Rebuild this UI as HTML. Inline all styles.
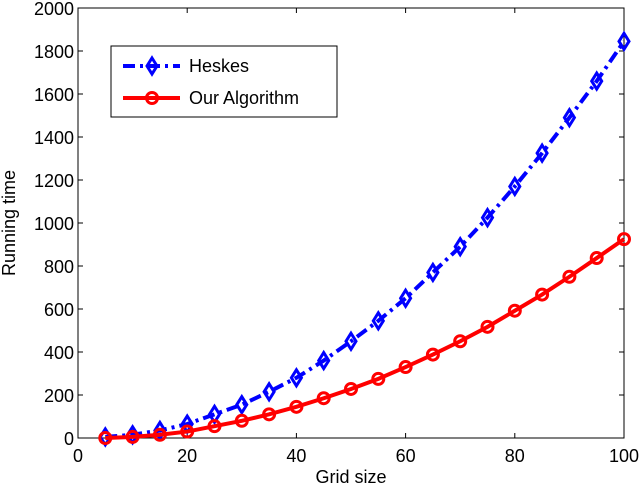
<!DOCTYPE html>
<html><head><meta charset="utf-8"><style>
body{margin:0;background:#fff;}
svg text{font-family:"Liberation Sans",sans-serif;font-size:18px;fill:#000;}
</style></head><body>
<svg id="c" width="640" height="485" xmlns="http://www.w3.org/2000/svg"></svg>
<script>
const xs=[5,10,15,20,25,30,35,40,45,50,55,60,65,70,75,80,85,90,95,100];
const heskes=[5,15,35,65,110,155,215,280,360,450,545,650,770,890,1025,1170,1325,1490,1660,1845];
const ours=[0,5,15,30,55,80,110,145,185,228,275,330,388,450,517,592,667,750,837,925];
const xTicks=[0,20,40,60,80,100];
const yTicks=[0,200,400,600,800,1000,1200,1400,1600,1800,2000];
const L=78,R=624,T=8,B=438;
const X=v=>L+(v/100)*(R-L), Y=v=>B-(v/2000)*(B-T);
const svg=document.getElementById('c');const NS='http://www.w3.org/2000/svg';
function mk(t,a,p){const e=document.createElementNS(NS,t);for(const k in a)e.setAttribute(k,a[k]);(p||svg).appendChild(e);return e;}
const frame=mk('rect',{x:L,y:T,width:R-L,height:B-T,fill:'#fff',stroke:'#000','stroke-width':1});


xTicks.forEach(t=>{const x=X(t);mk('line',{x1:x,y1:B,x2:x,y2:B-5,stroke:'#000'});mk('line',{x1:x,y1:T,x2:x,y2:T+5,stroke:'#000'});
const tx=mk('text',{x:x,y:B+24,'text-anchor':'middle'});tx.textContent=t;

});
yTicks.forEach(t=>{const y=Y(t);mk('line',{x1:L,y1:y,x2:L+5,y2:y,stroke:'#000'});mk('line',{x1:R,y1:y,x2:R-5,y2:y,stroke:'#000'});
const tx=mk('text',{x:L-4,y:y+7,'text-anchor':'end'});tx.textContent=t;

});
const xt=mk('text',{x:(L+R)/2,y:483,'text-anchor':'middle'});xt.textContent='Grid size';


const yt=mk('text',{x:0,y:0,'text-anchor':'middle',transform:'translate(15,'+(T+B)/2+') rotate(-90)'});yt.textContent='Running time';


function diamond(g,x,y,c){mk('path',{d:`M${x} ${y-8}L${x+5} ${y}L${x} ${y+8}L${x-5} ${y}Z`,fill:'none',stroke:c,'stroke-width':3},g);}
function circ(g,x,y,c){mk('circle',{cx:x,cy:y,r:5.5,fill:'none',stroke:c,'stroke-width':3},g);}
const gh=mk('g',{});
mk('polyline',{points:xs.map((x,i)=>X(x)+','+Y(heskes[i])).join(' '),fill:'none',stroke:'#0000ff','stroke-width':4,'stroke-dasharray':'12 5 3 5'},gh);
xs.forEach((x,i)=>diamond(gh,X(x),Y(heskes[i]),'#0000ff'));
const go=mk('g',{});
mk('polyline',{points:xs.map((x,i)=>X(x)+','+Y(ours[i])).join(' '),fill:'none',stroke:'#ff0000','stroke-width':4},go);
xs.forEach((x,i)=>circ(go,X(x),Y(ours[i]),'#ff0000'));
const lg=mk('g',{});
mk('rect',{x:111,y:46,width:226,height:71,fill:'#fff',stroke:'#000'},lg);
mk('line',{x1:123,y1:66,x2:180,y2:66,stroke:'#0000ff','stroke-width':4,'stroke-dasharray':'12 5 3 5'},lg);
diamond(lg,152,66,'#0000ff');
const t1=mk('text',{x:189,y:72},lg);t1.textContent='Heskes';

mk('line',{x1:123,y1:98,x2:180,y2:98,stroke:'#ff0000','stroke-width':4},lg);
circ(lg,152,98,'#ff0000');
const t2=mk('text',{x:189,y:104},lg);t2.textContent='Our Algorithm';

</script>
</body></html>
